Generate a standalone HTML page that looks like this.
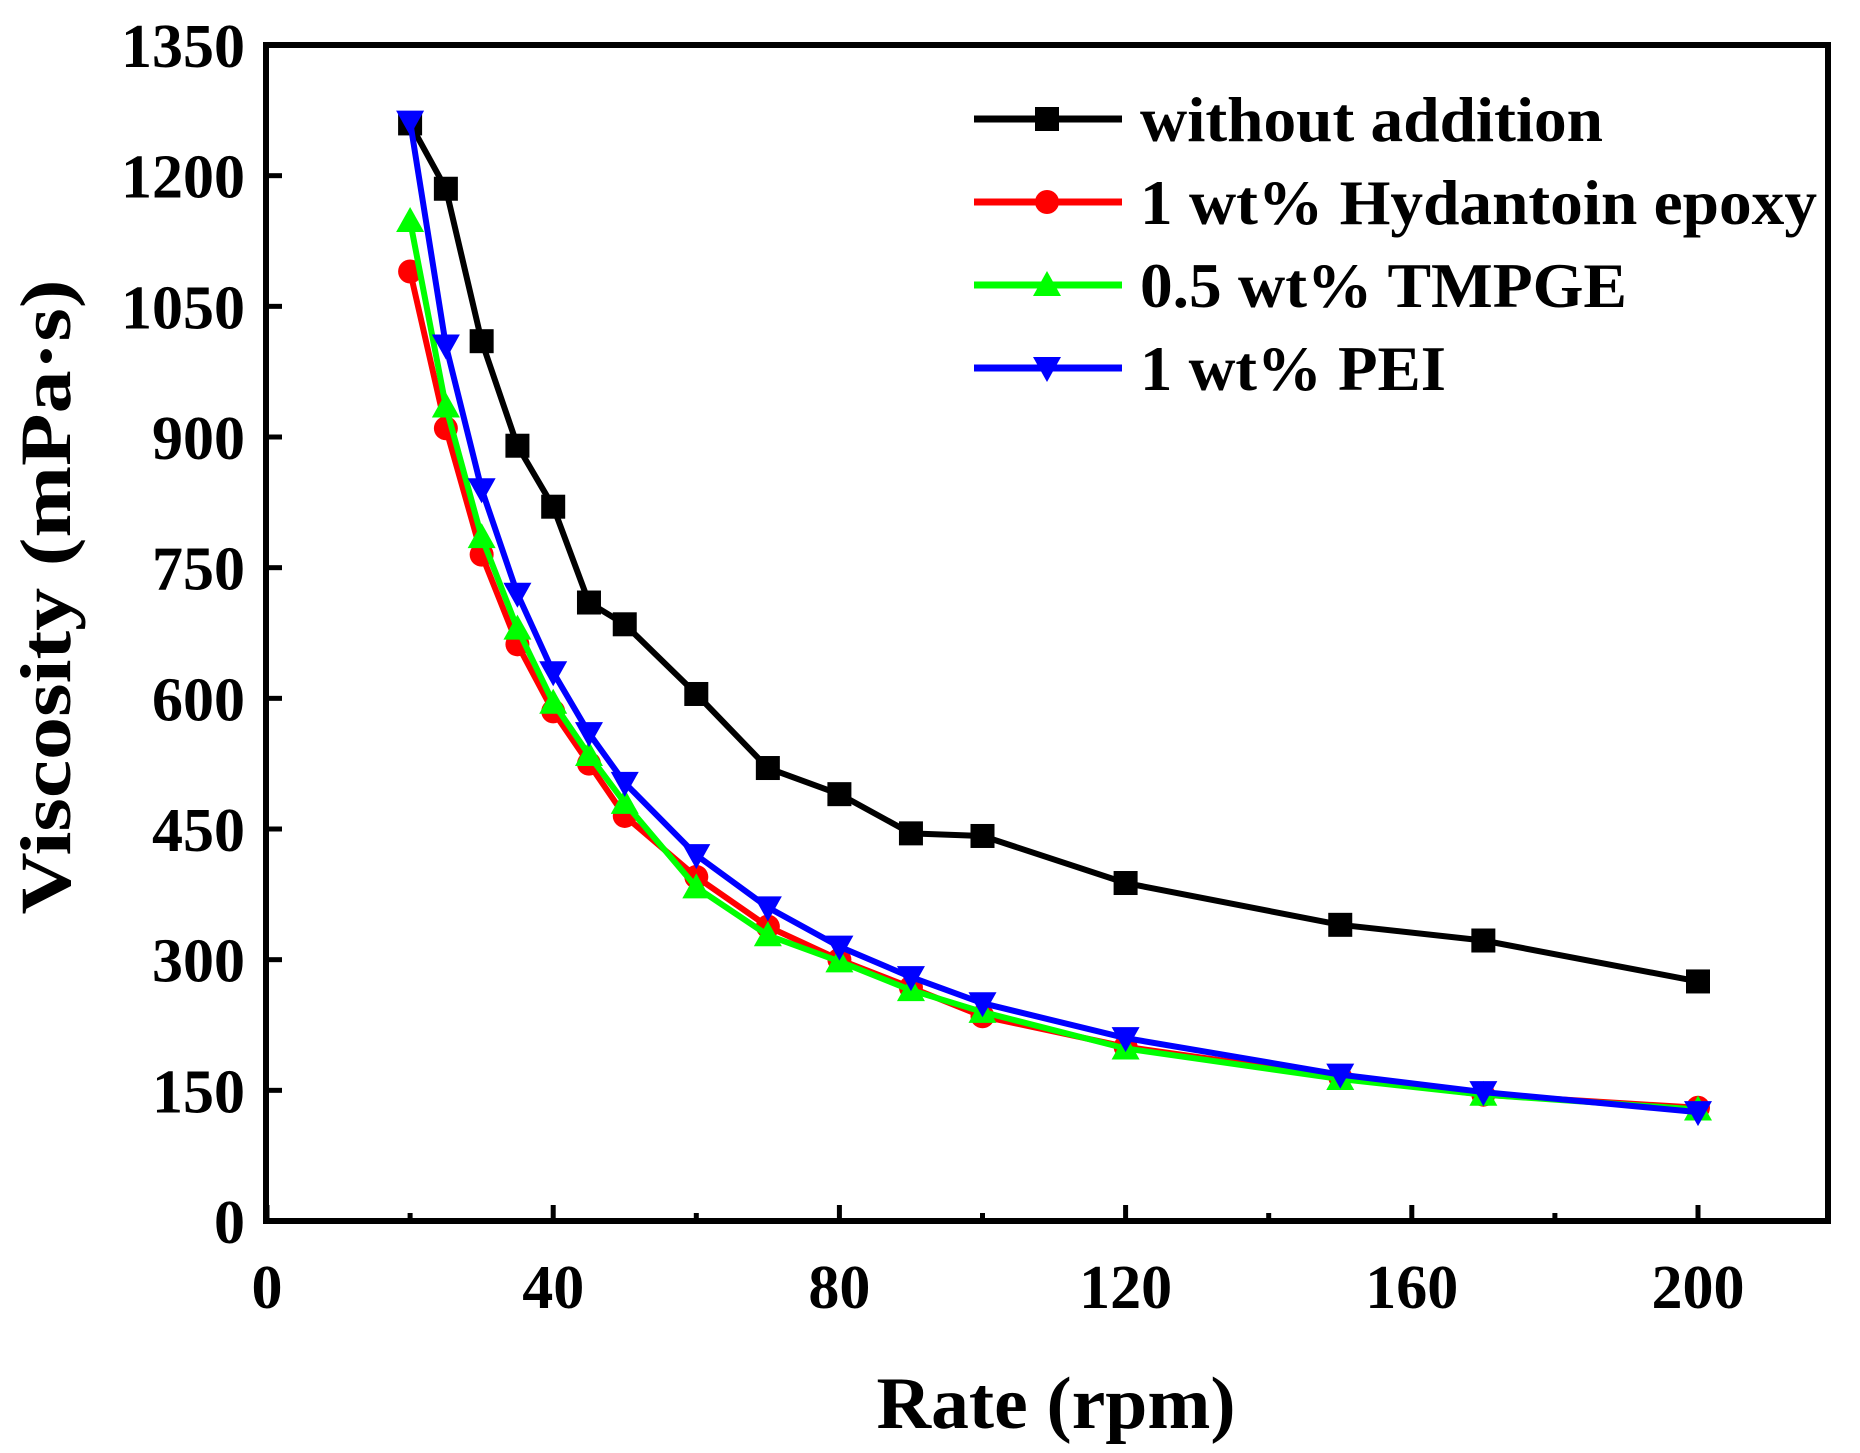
<!DOCTYPE html>
<html><head><meta charset="utf-8"><style>
html,body{margin:0;padding:0;background:#fff;}
svg{display:block;font-family:"Liberation Serif",serif;font-weight:bold;}
</style></head><body>
<svg id="s" width="1860" height="1453" viewBox="0 0 1860 1453" xmlns="http://www.w3.org/2000/svg">
<rect width="1860" height="1453" fill="#fff"/>
<g id="ticks" stroke="#000" stroke-width="5"></g>
<g id="series"></g>
<rect x="266" y="45" width="1562" height="1176" fill="none" stroke="#000" stroke-width="6"/>
<g id="labels" font-size="62" fill="#000"></g>
<text x="1056" y="1428" font-size="74" text-anchor="middle" textLength="359" lengthAdjust="spacingAndGlyphs">Rate (rpm)</text>
<text transform="translate(70,597) rotate(-90)" font-size="72" text-anchor="middle" textLength="635" lengthAdjust="spacingAndGlyphs">Viscosity (mPa·s)</text>
<g id="legend" font-size="64"></g>
</svg>
<script>
const NS="http://www.w3.org/2000/svg";
const X=v=>267+7.155*v, Y=v=>1221-0.8711*v;
function el(t,a,p){const e=document.createElementNS(NS,t);for(const k in a)e.setAttribute(k,a[k]);if(p)p.appendChild(e);return e;}
const tk=document.getElementById('ticks'), lb=document.getElementById('labels');
for(let v=0;v<=200;v+=20){const x=X(v);const L=(v%40==0)?16:8;el('line',{x1:x,y1:1221,x2:x,y2:1221-L},tk);
 if(v%40==0){const t=el('text',{x:x,y:1308,'text-anchor':'middle'},lb);t.textContent=v;}}
for(let v=0;v<=1350;v+=150){const y=Y(v);if(v>0&&v<1350)el('line',{x1:266,y1:y,x2:282,y2:y},tk);
 const t=el('text',{x:245,y:y+22,'text-anchor':'end'},lb);t.textContent=v;}
const xs=[20,25,30,35,40,45,50,60,70,80,90,100,120,150,170,200];
const S=[
 ['#000','sq',[1260,1185,1010,890,820,710,685,605,520,490,445,442,388,340,322,275],'without addition',463],
 ['#f00','ci',[1090,910,765,662,585,525,465,395,338,300,268,235,200,165,145,130],'1 wt% Hydantoin epoxy',677],
 ['#0f0','up',[1148,935,785,680,595,535,480,383,328,298,265,240,198,163,145,128],'0.5 wt% TMPGE',487],
 ['#00f','dn',[1262,1005,840,720,630,560,503,420,360,315,280,250,210,168,148,125],'1 wt% PEI',306]];
function mk(g,type,x,y,c){const r=12;
 if(type=='sq')el('rect',{x:x-r,y:y-r,width:2*r,height:2*r,fill:c},g);
 else if(type=='ci')el('circle',{cx:x,cy:y,r:r,fill:c},g);
 else if(type=='up')el('polygon',{points:`${x},${y-14} ${x+14},${y+11} ${x-14},${y+11}`,fill:c},g);
 else el('polygon',{points:`${x},${y+14} ${x+14},${y-11} ${x-14},${y-11}`,fill:c},g);}
const sg=document.getElementById('series');
S.forEach(s=>{const g=el('g',{},sg);
 el('polyline',{points:xs.map((x,i)=>X(x)+','+Y(s[2][i])).join(' '),fill:'none',stroke:s[0],'stroke-width':6,'stroke-linejoin':'round'},g);
 xs.forEach((x,i)=>mk(g,s[1],X(x),Y(s[2][i]),s[0]));});
const lg=document.getElementById('legend');
S.forEach((s,i)=>{const y=119+i*83;el('line',{x1:974,y1:y,x2:1122,y2:y,stroke:s[0],'stroke-width':7},lg);mk(lg,s[1],1047,y,s[0]);
 const t=el('text',{x:1140,y:y+22,textLength:s[4],lengthAdjust:'spacingAndGlyphs'},lg);t.textContent=s[3];});
</script>
</body></html>
